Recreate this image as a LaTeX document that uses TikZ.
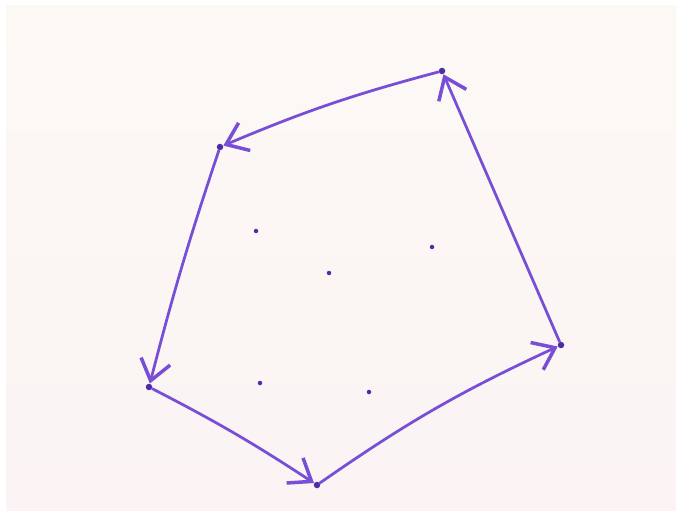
\documentclass[tikz,border=0pt]{standalone}
\usetikzlibrary{arrows.meta}

\definecolor{marker}{RGB}{120,78,214}
\definecolor{ink}{RGB}{78,44,165}
\definecolor{boardtop}{RGB}{252,249,245}
\definecolor{boardbot}{RGB}{251,243,244}

\begin{document}
\begin{tikzpicture}[x=0.2mm,y=-0.2mm]
  \tikzset{hull dot/.style={circle,fill=ink,inner sep=0pt,minimum size=1.3mm},
           point dot/.style={circle,fill=ink,inner sep=0pt,minimum size=0.9mm},
           hull edge/.style={draw=marker,line width=0.55mm,line cap=round,
             -{Straight Barb[length=4mm,width=6mm,line width=0.7mm]}}}

  \useasboundingbox (0,0) rectangle (682,516);
  \fill[white] (0,0) rectangle (682,516);
  \shade[top color=boardtop,bottom color=boardbot] (6,6) rectangle (676,510);

  % corners of the hull
  \node [hull dot] (A) at (442,71) {};
  \node [hull dot] (B) at (220,147) {};
  \node [hull dot] (C) at (149,387) {};
  \node [hull dot] (D) at (317,485) {};
  \node [hull dot] (E) at (561,345) {};

  % points inside
  \node [point dot] (p1) at (256,231) {};
  \node [point dot] (p2) at (432,247) {};
  \node [point dot] (p3) at (329,273) {};
  \node [point dot] (p4) at (260,383) {};
  \node [point dot] (p5) at (369,392) {};

  \draw [hull edge] (A) to[bend right=4] (B);
  \draw [hull edge] (B) to[bend right=2] (C);
  \draw [hull edge] (C) to[bend left=3] (D);
  \draw [hull edge] (D) to[bend left=5] (E);
  \draw [hull edge] (E) to (A);
\end{tikzpicture}
\end{document}
